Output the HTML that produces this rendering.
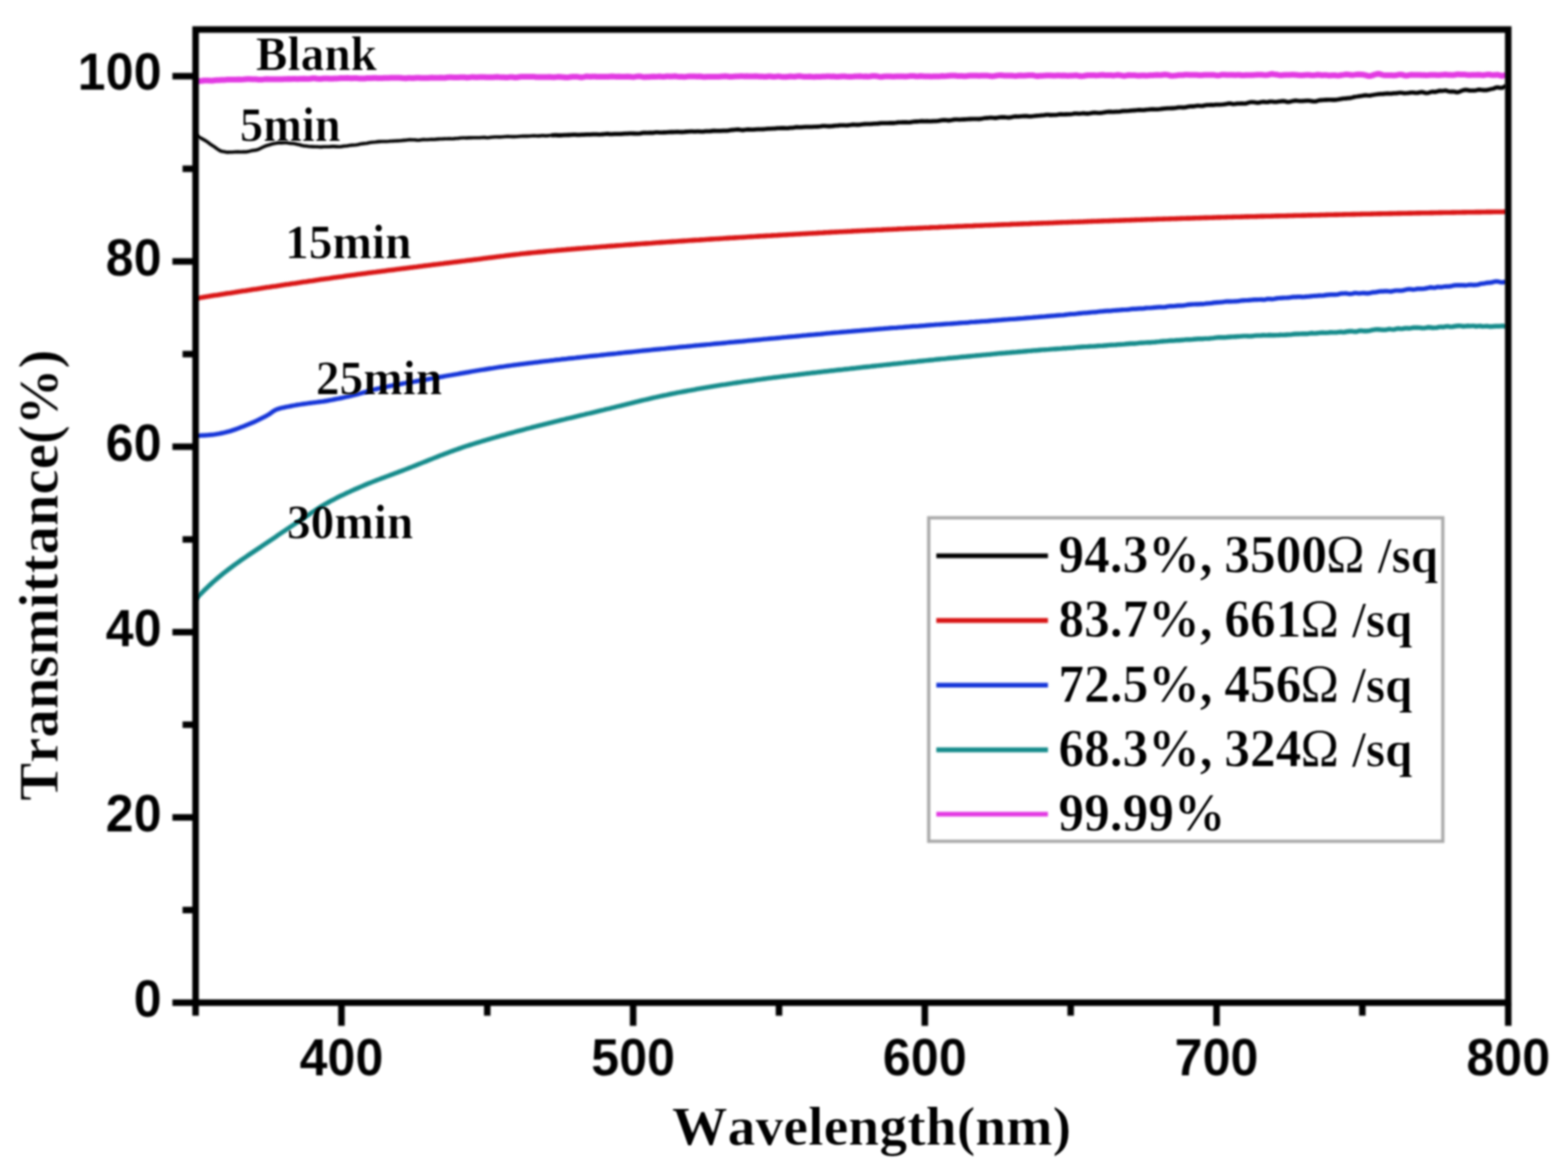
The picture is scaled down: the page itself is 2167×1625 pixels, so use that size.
<!DOCTYPE html>
<html lang="en"><head><meta charset="utf-8"><title>Transmittance vs Wavelength</title>
<style>
html,body{margin:0;padding:0;background:#fff;}
body{width:2167px;height:1625px;overflow:hidden;}
svg{display:block;}
text{font-kerning:none;fill:#000;}
.ser{font-family:"Liberation Serif","DejaVu Serif",serif;font-weight:700;}
.san{font-family:"Liberation Sans","DejaVu Sans",sans-serif;font-weight:700;}
.reg{font-weight:400;}
</style></head><body>
<svg width="2167" height="1625" viewBox="0 0 2167 1625">
<rect x="-10" y="-10" width="2187" height="1645" fill="#ffffff"/>
<defs>
<filter id="fb" filterUnits="userSpaceOnUse" x="0" y="0" width="2167" height="1625" color-interpolation-filters="sRGB"><feGaussianBlur stdDeviation="1.8"/></filter>
<filter id="ft" x="-10%" y="-30%" width="120%" height="160%" color-interpolation-filters="sRGB"><feGaussianBlur stdDeviation="1.7"/><feComponentTransfer><feFuncA type="gamma" amplitude="1" exponent="1.4" offset="0"/></feComponentTransfer></filter>
<filter id="fs" x="-10%" y="-30%" width="120%" height="160%" color-interpolation-filters="sRGB"><feGaussianBlur stdDeviation="1.7"/><feComponentTransfer><feFuncA type="gamma" amplitude="1" exponent="1.1" offset="0"/></feComponentTransfer></filter>
<filter id="fo" x="-10%" y="-30%" width="120%" height="160%" color-interpolation-filters="sRGB"><feGaussianBlur stdDeviation="1.7"/></filter>
</defs>
<clipPath id="cp"><rect x="270.3" y="40.8" width="1814.1" height="1344.7"/></clipPath>
<g filter="url(#fb)"><g fill="none" stroke-linejoin="round" stroke-linecap="butt" clip-path="url(#cp)">
<path d="M270.0,186.0 L273.0,188.2 L276.0,189.9 L279.0,191.6 L282.0,193.2 L285.0,195.0 L288.0,197.2 L291.0,199.5 L294.0,201.4 L297.0,203.4 L300.0,205.6 L303.0,207.6 L306.0,209.1 L309.0,209.6 L312.0,210.1 L315.0,210.4 L318.0,210.3 L321.0,210.2 L324.0,210.0 L327.0,209.9 L330.0,209.9 L333.0,210.0 L336.0,209.9 L339.0,209.9 L342.0,209.6 L345.0,208.9 L348.0,208.1 L351.0,207.7 L354.0,207.4 L357.0,206.5 L360.0,205.0 L363.0,203.5 L366.0,202.1 L369.0,201.0 L372.0,200.3 L375.0,199.3 L378.0,198.6 L381.0,198.1 L384.0,197.4 L387.0,197.2 L390.0,197.4 L393.0,197.3 L396.0,197.3 L399.0,197.8 L402.0,198.1 L405.0,198.3 L408.0,198.8 L411.0,199.4 L414.0,200.0 L417.0,201.0 L420.0,201.6 L423.0,201.8 L426.0,202.3 L429.0,202.5 L432.0,202.6 L435.0,202.7 L438.0,202.8 L441.0,203.0 L444.0,203.1 L447.0,202.8 L450.0,202.7 L453.0,202.7 L456.0,202.6 L459.0,202.4 L462.0,202.4 L465.0,202.6 L468.0,202.8 L471.0,202.7 L474.0,202.1 L477.0,201.8 L480.0,201.6 L483.0,201.0 L486.0,200.6 L489.0,200.5 L492.0,200.3 L495.0,199.8 L498.0,199.1 L501.0,198.6 L504.0,198.3 L507.0,198.0 L510.0,197.3 L513.0,196.7 L516.0,196.5 L519.0,196.3 L522.0,195.9 L525.0,195.6 L528.0,195.5 L531.0,195.5 L534.0,195.5 L537.0,195.3 L540.0,195.0 L543.0,194.9 L546.0,194.7 L549.0,194.6 L552.0,194.5 L555.0,194.2 L558.0,193.9 L561.0,193.7 L564.0,193.3 L567.0,193.1 L570.0,193.3 L573.0,193.3 L576.0,193.6 L579.0,193.7 L582.0,193.2 L585.0,192.9 L588.0,193.0 L591.0,193.0 L594.0,192.7 L597.0,192.6 L600.0,192.7 L603.0,192.4 L606.0,192.1 L609.0,192.0 L612.0,191.9 L615.0,191.7 L618.0,191.7 L621.0,191.6 L624.0,191.7 L627.0,191.6 L630.0,191.3 L633.0,191.1 L636.0,190.8 L639.0,190.5 L642.0,190.5 L645.0,190.6 L648.0,190.4 L651.0,190.4 L654.0,190.3 L657.0,190.3 L660.0,190.3 L663.0,190.3 L666.0,190.0 L669.0,189.8 L672.0,190.1 L675.0,190.2 L678.0,189.8 L681.0,189.5 L684.0,189.3 L687.0,189.3 L690.0,189.4 L693.0,189.2 L696.0,189.0 L699.0,188.8 L702.0,188.6 L705.0,188.7 L708.0,188.9 L711.0,188.9 L714.0,188.8 L717.0,188.5 L720.0,188.2 L723.0,188.1 L726.0,188.1 L729.0,188.1 L732.0,188.0 L735.0,187.7 L738.0,187.5 L741.0,187.7 L744.0,187.9 L747.0,187.6 L750.0,187.3 L753.0,187.6 L756.0,187.6 L759.0,187.2 L762.0,187.0" stroke="#000000" stroke-width="4.6"/>
<path d="M762.0,187.0 L765.0,186.8 L768.0,186.7 L771.0,187.0 L774.0,187.0 L777.0,186.8 L780.0,186.7 L783.0,186.7 L786.0,186.5 L789.0,186.3 L792.0,186.1 L795.0,186.2 L798.0,186.4 L801.0,186.3 L804.0,186.2 L807.0,186.1 L810.0,185.9 L813.0,185.8 L816.0,185.9 L819.0,185.7 L822.0,185.6 L825.0,185.7 L828.0,185.8 L831.0,185.7 L834.0,185.5 L837.0,185.1 L840.0,185.0 L843.0,185.3 L846.0,185.3 L849.0,185.1 L852.0,185.1 L855.0,185.1 L858.0,185.1 L861.0,184.9 L864.0,184.7 L867.0,184.6 L870.0,184.4 L873.0,184.4 L876.0,184.5 L879.0,184.6 L882.0,184.7 L885.0,184.4 L888.0,183.6 L891.0,183.4 L894.0,183.6 L897.0,183.5 L900.0,183.5 L903.0,183.5 L906.0,182.9 L909.0,182.8 L912.0,183.1 L915.0,183.2 L918.0,183.0 L921.0,182.9 L924.0,182.6 L927.0,182.4 L930.0,182.5 L933.0,182.3 L936.0,182.2 L939.0,182.4 L942.0,182.5 L945.0,182.3 L948.0,182.0 L951.0,181.8 L954.0,181.7 L957.0,181.7 L960.0,181.8 L963.0,181.7 L966.0,181.7 L969.0,181.9 L972.0,181.8 L975.0,181.4 L978.0,181.4 L981.0,181.3 L984.0,181.0 L987.0,180.7 L990.0,180.8 L993.0,180.9 L996.0,180.8 L999.0,180.6 L1002.0,180.6 L1005.0,180.6 L1008.0,180.2 L1011.0,179.7 L1014.0,179.5 L1017.0,179.1 L1020.0,178.9 L1023.0,179.4 L1026.0,179.8 L1029.0,179.5 L1032.0,179.0 L1035.0,179.0 L1038.0,179.2 L1041.0,179.1 L1044.0,178.8 L1047.0,178.7 L1050.0,178.6 L1053.0,178.6 L1056.0,178.5 L1059.0,178.1 L1062.0,177.8 L1065.0,177.8 L1068.0,177.7 L1071.0,177.6 L1074.0,177.2 L1077.0,177.1 L1080.0,177.0 L1083.0,176.9 L1086.0,177.2 L1089.0,177.1 L1092.0,176.7 L1095.0,176.6 L1098.0,176.2 L1101.0,175.7 L1104.0,175.8 L1107.0,175.9 L1110.0,175.6 L1113.0,175.4 L1116.0,175.3 L1119.0,175.4 L1122.0,175.4 L1125.0,175.2 L1128.0,175.1 L1131.0,175.0 L1134.0,174.6 L1137.0,174.1 L1140.0,174.1 L1143.0,174.4 L1146.0,174.5 L1149.0,174.3 L1152.0,174.0 L1155.0,173.7 L1158.0,173.5 L1161.0,173.2 L1164.0,173.1 L1167.0,173.2 L1170.0,173.3 L1173.0,173.0 L1176.0,172.6 L1179.0,172.2 L1182.0,172.3 L1185.0,172.5 L1188.0,172.3 L1191.0,171.9 L1194.0,171.5 L1197.0,171.3 L1200.0,171.4 L1203.0,171.4 L1206.0,171.1 L1209.0,170.9 L1212.0,170.8 L1215.0,170.5 L1218.0,170.2 L1221.0,170.1 L1224.0,170.1 L1227.0,170.1 L1230.0,169.9 L1233.0,170.0 L1236.0,170.0 L1239.0,169.5 L1242.0,169.2 L1245.0,169.2 L1248.0,169.0 L1251.0,168.8 L1254.0,169.0 L1257.0,169.1 L1260.0,168.6 L1263.0,168.2 L1266.0,168.0 L1269.0,167.9 L1272.0,167.5 L1275.0,167.5 L1278.0,167.7 L1281.0,167.5 L1284.0,167.6 L1287.0,167.7 L1290.0,167.3 L1293.0,167.3 L1296.0,167.2 L1299.0,166.7 L1302.0,166.1 L1305.0,165.9 L1308.0,166.2 L1311.0,166.5 L1314.0,166.2 L1317.0,165.5 L1320.0,165.2 L1323.0,165.2 L1326.0,165.3 L1329.0,165.1 L1332.0,165.0 L1335.0,164.9 L1338.0,164.6 L1341.0,164.5 L1344.0,164.4 L1347.0,164.3 L1350.0,164.4 L1353.0,164.5 L1356.0,164.2 L1359.0,163.5 L1362.0,163.1 L1365.0,163.0 L1368.0,162.6 L1371.0,162.6 L1374.0,163.0 L1377.0,163.0 L1380.0,162.4 L1383.0,162.0 L1386.0,161.9 L1389.0,162.0 L1392.0,162.4 L1395.0,162.5 L1398.0,161.9 L1401.0,161.2 L1404.0,161.0 L1407.0,161.1 L1410.0,160.9 L1413.0,160.7 L1416.0,160.5 L1419.0,160.5 L1422.0,160.8 L1425.0,160.9 L1428.0,160.5 L1431.0,160.1 L1434.0,159.9 L1437.0,159.7 L1440.0,159.4 L1443.0,159.1 L1446.0,158.7 L1449.0,158.7 L1452.0,159.0 L1455.0,158.9 L1458.0,158.9 L1461.0,158.6 L1464.0,158.0 L1467.0,157.8 L1470.0,158.1 L1473.0,158.0 L1476.0,157.9 L1479.0,157.9 L1482.0,157.5 L1485.0,156.9 L1488.0,156.9 L1491.0,157.2 L1494.0,156.9 L1497.0,156.5 L1500.0,156.8 L1503.0,157.0 L1506.0,156.7 L1509.0,156.2 L1512.0,155.7 L1515.0,155.8 L1518.0,156.2 L1521.0,156.0 L1524.0,155.7 L1527.0,155.2 L1530.0,154.7 L1533.0,154.3 L1536.0,154.5 L1539.0,154.6 L1542.0,154.3 L1545.0,154.4 L1548.0,154.1 L1551.0,153.5 L1554.0,153.3 L1557.0,153.3 L1560.0,153.2 L1563.0,152.9 L1566.0,152.6 L1569.0,152.5 L1572.0,152.1 L1575.0,151.9 L1578.0,152.2 L1581.0,152.1 L1584.0,151.6 L1587.0,151.4 L1590.0,151.1 L1593.0,151.0 L1596.0,151.1 L1599.0,151.1 L1602.0,150.9 L1605.0,150.5 L1608.0,150.2 L1611.0,149.9 L1614.0,149.7 L1617.0,149.7 L1620.0,149.5 L1623.0,149.3 L1626.0,148.9 L1629.0,148.4 L1632.0,148.3 L1635.0,148.5 L1638.0,148.3 L1641.0,147.7 L1644.0,147.2 L1647.0,147.0 L1650.0,147.0 L1653.0,146.4 L1656.0,146.0 L1659.0,146.4 L1662.0,146.4 L1665.0,145.6 L1668.0,145.2 L1671.0,145.1 L1674.0,145.0 L1677.0,145.1 L1680.0,144.7 L1683.0,144.6 L1686.0,144.6 L1689.0,144.4 L1692.0,144.1 L1695.0,143.6 L1698.0,143.0 L1701.0,143.2 L1704.0,143.8 L1707.0,143.6 L1710.0,143.2 L1713.0,143.1 L1716.0,142.9 L1719.0,143.1 L1722.0,143.0 L1725.0,142.0 L1728.0,141.2 L1731.0,141.1 L1734.0,141.4 L1737.0,142.0 L1740.0,141.9 L1743.0,141.0 L1746.0,140.6 L1749.0,141.2 L1752.0,141.1 L1755.0,140.4 L1758.0,140.4 L1761.0,140.8 L1764.0,140.8 L1767.0,140.4 L1770.0,140.0 L1773.0,139.7 L1776.0,140.0 L1779.0,140.9 L1782.0,140.8 L1785.0,140.0 L1788.0,139.3 L1791.0,139.0 L1794.0,139.4 L1797.0,139.7 L1800.0,139.7 L1803.0,139.4 L1806.0,139.1 L1809.0,139.2 L1812.0,139.6 L1815.0,140.2 L1818.0,140.2 L1821.0,139.2 L1824.0,138.5 L1827.0,138.4 L1830.0,138.2 L1833.0,138.0 L1836.0,137.9 L1839.0,137.8 L1842.0,138.0 L1845.0,138.0 L1848.0,137.7 L1851.0,137.2 L1854.0,136.6 L1857.0,136.1 L1860.0,136.0 L1863.0,135.7 L1866.0,135.5 L1869.0,134.8 L1872.0,133.9 L1875.0,133.5 L1878.0,133.0 L1881.0,132.7 L1884.0,132.2 L1887.0,131.6 L1890.0,131.9 L1893.0,132.1 L1896.0,131.5 L1899.0,131.0 L1902.0,130.5 L1905.0,130.1 L1908.0,129.9 L1911.0,129.8 L1914.0,129.5 L1917.0,129.1 L1920.0,129.3 L1923.0,129.3 L1926.0,128.9 L1929.0,128.8 L1932.0,128.5 L1935.0,128.0 L1938.0,128.4 L1941.0,128.8 L1944.0,128.7 L1947.0,128.4 L1950.0,127.8 L1953.0,127.9 L1956.0,128.4 L1959.0,128.4 L1962.0,127.6 L1965.0,127.1 L1968.0,127.9 L1971.0,128.7 L1974.0,128.4 L1977.0,127.3 L1980.0,126.6 L1983.0,127.1 L1986.0,126.4 L1989.0,125.4 L1992.0,125.7 L1995.0,125.4 L1998.0,125.0 L2001.0,126.0 L2004.0,126.7 L2007.0,126.3 L2010.0,126.6 L2013.0,127.5 L2016.0,127.2 L2019.0,125.9 L2022.0,124.8 L2025.0,124.1 L2028.0,124.4 L2031.0,125.1 L2034.0,125.2 L2037.0,125.1 L2040.0,124.8 L2043.0,124.0 L2046.0,124.0 L2049.0,124.5 L2052.0,124.6 L2055.0,124.5 L2058.0,123.7 L2061.0,123.0 L2064.0,122.5 L2067.0,121.2 L2070.0,120.7 L2073.0,121.4 L2076.0,121.4 L2079.0,120.0 L2082.0,118.4" stroke="#000000" stroke-width="5.8"/>
<path d="M270.0,412.4 L273.0,411.9 L276.0,411.4 L279.0,411.0 L282.0,410.5 L285.0,410.0 L288.0,409.6 L291.0,409.1 L294.0,408.6 L297.0,408.1 L300.0,407.7 L303.0,407.2 L306.0,406.7 L309.0,406.3 L312.0,405.8 L315.0,405.3 L318.0,404.9 L321.0,404.4 L324.0,404.0 L327.0,403.5 L330.0,403.0 L333.0,402.6 L336.0,402.1 L339.0,401.7 L342.0,401.2 L345.0,400.8 L348.0,400.3 L351.0,399.8 L354.0,399.4 L357.0,398.9 L360.0,398.5 L363.0,398.0 L366.0,397.6 L369.0,397.1 L372.0,396.7 L375.0,396.2 L378.0,395.8 L381.0,395.4 L384.0,394.9 L387.0,394.5 L390.0,394.0 L393.0,393.6 L396.0,393.1 L399.0,392.7 L402.0,392.2 L405.0,391.8 L408.0,391.4 L411.0,390.9 L414.0,390.5 L417.0,390.0 L420.0,389.6 L423.0,389.2 L426.0,388.7 L429.0,388.3 L432.0,387.9 L435.0,387.4 L438.0,387.0 L441.0,386.6 L444.0,386.1 L447.0,385.7 L450.0,385.3 L453.0,384.9 L456.0,384.5 L459.0,384.0 L462.0,383.6 L465.0,383.2 L468.0,382.8 L471.0,382.4 L474.0,382.0 L477.0,381.5 L480.0,381.1 L483.0,380.7 L486.0,380.3 L489.0,379.9 L492.0,379.5 L495.0,379.1 L498.0,378.7 L501.0,378.3 L504.0,377.9 L507.0,377.5 L510.0,377.1 L513.0,376.7 L516.0,376.3 L519.0,376.0 L522.0,375.6 L525.0,375.2 L528.0,374.8 L531.0,374.4 L534.0,374.0 L537.0,373.6 L540.0,373.2 L543.0,372.9 L546.0,372.5 L549.0,372.1 L552.0,371.7 L555.0,371.3 L558.0,370.9 L561.0,370.6 L564.0,370.2 L567.0,369.8 L570.0,369.4 L573.0,369.0 L576.0,368.7 L579.0,368.3 L582.0,367.9 L585.0,367.5 L588.0,367.1 L591.0,366.8 L594.0,366.4 L597.0,366.0 L600.0,365.6 L603.0,365.3 L606.0,364.9 L609.0,364.5 L612.0,364.2 L615.0,363.8 L618.0,363.4 L621.0,363.1 L624.0,362.7 L627.0,362.3 L630.0,361.9 L633.0,361.6 L636.0,361.2 L639.0,360.8 L642.0,360.5 L645.0,360.1 L648.0,359.7 L651.0,359.4 L654.0,359.0 L657.0,358.6 L660.0,358.3 L663.0,357.9 L666.0,357.5 L669.0,357.1 L672.0,356.7 L675.0,356.3 L678.0,355.9 L681.0,355.6 L684.0,355.2 L687.0,354.8 L690.0,354.4 L693.0,354.0 L696.0,353.7 L699.0,353.3 L702.0,352.9 L705.0,352.6 L708.0,352.2 L711.0,351.9 L714.0,351.5 L717.0,351.2 L720.0,350.8 L723.0,350.5 L726.0,350.2 L729.0,349.9 L732.0,349.6 L735.0,349.3 L738.0,349.0 L741.0,348.7 L744.0,348.4 L747.0,348.1 L750.0,347.9 L753.0,347.6 L756.0,347.3 L759.0,347.0 L762.0,346.7 L765.0,346.5 L768.0,346.2 L771.0,345.9 L774.0,345.7 L777.0,345.4 L780.0,345.2 L783.0,344.9 L786.0,344.6 L789.0,344.4 L792.0,344.1 L795.0,343.9 L798.0,343.6 L801.0,343.4 L804.0,343.2 L807.0,342.9 L810.0,342.7 L813.0,342.4 L816.0,342.2 L819.0,342.0 L822.0,341.7 L825.0,341.5 L828.0,341.3 L831.0,341.0 L834.0,340.8 L837.0,340.6 L840.0,340.3 L843.0,340.1 L846.0,339.9 L849.0,339.7 L852.0,339.4 L855.0,339.2 L858.0,339.0 L861.0,338.8 L864.0,338.5 L867.0,338.3 L870.0,338.1 L873.0,337.9 L876.0,337.7 L879.0,337.4 L882.0,337.2 L885.0,337.0 L888.0,336.8 L891.0,336.6 L894.0,336.4 L897.0,336.2 L900.0,336.0 L903.0,335.7 L906.0,335.5 L909.0,335.3 L912.0,335.1 L915.0,334.9 L918.0,334.7 L921.0,334.5 L924.0,334.3 L927.0,334.1 L930.0,333.9 L933.0,333.7 L936.0,333.5 L939.0,333.3 L942.0,333.1 L945.0,332.9 L948.0,332.7 L951.0,332.5 L954.0,332.3 L957.0,332.1 L960.0,331.9 L963.0,331.7 L966.0,331.6 L969.0,331.4 L972.0,331.2 L975.0,331.0 L978.0,330.8 L981.0,330.6 L984.0,330.4 L987.0,330.2 L990.0,330.0 L993.0,329.9 L996.0,329.7 L999.0,329.5 L1002.0,329.3 L1005.0,329.1 L1008.0,328.9 L1011.0,328.8 L1014.0,328.6 L1017.0,328.4 L1020.0,328.2 L1023.0,328.0 L1026.0,327.9 L1029.0,327.7 L1032.0,327.5 L1035.0,327.3 L1038.0,327.1 L1041.0,327.0 L1044.0,326.8 L1047.0,326.6 L1050.0,326.4 L1053.0,326.3 L1056.0,326.1 L1059.0,325.9 L1062.0,325.7 L1065.0,325.6 L1068.0,325.4 L1071.0,325.2 L1074.0,325.1 L1077.0,324.9 L1080.0,324.7 L1083.0,324.5 L1086.0,324.4 L1089.0,324.2 L1092.0,324.0 L1095.0,323.9 L1098.0,323.7 L1101.0,323.5 L1104.0,323.4 L1107.0,323.2 L1110.0,323.0 L1113.0,322.9 L1116.0,322.7 L1119.0,322.5 L1122.0,322.4 L1125.0,322.2 L1128.0,322.1 L1131.0,321.9 L1134.0,321.7 L1137.0,321.6 L1140.0,321.4 L1143.0,321.3 L1146.0,321.1 L1149.0,320.9 L1152.0,320.8 L1155.0,320.6 L1158.0,320.5 L1161.0,320.3 L1164.0,320.2 L1167.0,320.0 L1170.0,319.9 L1173.0,319.7 L1176.0,319.6 L1179.0,319.4 L1182.0,319.3 L1185.0,319.1 L1188.0,319.0 L1191.0,318.8 L1194.0,318.7 L1197.0,318.5 L1200.0,318.4 L1203.0,318.3 L1206.0,318.1 L1209.0,318.0 L1212.0,317.8 L1215.0,317.7 L1218.0,317.6 L1221.0,317.4 L1224.0,317.3 L1227.0,317.1 L1230.0,317.0 L1233.0,316.9 L1236.0,316.7 L1239.0,316.6 L1242.0,316.4 L1245.0,316.3 L1248.0,316.2 L1251.0,316.0 L1254.0,315.9 L1257.0,315.8 L1260.0,315.6 L1263.0,315.5 L1266.0,315.4 L1269.0,315.2 L1272.0,315.1 L1275.0,315.0 L1278.0,314.8 L1281.0,314.7 L1284.0,314.6 L1287.0,314.4 L1290.0,314.3 L1293.0,314.2 L1296.0,314.1 L1299.0,313.9 L1302.0,313.8 L1305.0,313.7 L1308.0,313.5 L1311.0,313.4 L1314.0,313.3 L1317.0,313.2 L1320.0,313.0 L1323.0,312.9 L1326.0,312.8 L1329.0,312.7 L1332.0,312.5 L1335.0,312.4 L1338.0,312.3 L1341.0,312.2 L1344.0,312.1 L1347.0,311.9 L1350.0,311.8 L1353.0,311.7 L1356.0,311.6 L1359.0,311.5 L1362.0,311.3 L1365.0,311.2 L1368.0,311.1 L1371.0,311.0 L1374.0,310.9 L1377.0,310.7 L1380.0,310.6 L1383.0,310.5 L1386.0,310.4 L1389.0,310.3 L1392.0,310.2 L1395.0,310.1 L1398.0,309.9 L1401.0,309.8 L1404.0,309.7 L1407.0,309.6 L1410.0,309.5 L1413.0,309.4 L1416.0,309.3 L1419.0,309.2 L1422.0,309.1 L1425.0,308.9 L1428.0,308.8 L1431.0,308.7 L1434.0,308.6 L1437.0,308.5 L1440.0,308.4 L1443.0,308.3 L1446.0,308.2 L1449.0,308.1 L1452.0,308.0 L1455.0,307.9 L1458.0,307.7 L1461.0,307.6 L1464.0,307.5 L1467.0,307.4 L1470.0,307.3 L1473.0,307.2 L1476.0,307.1 L1479.0,307.0 L1482.0,306.9 L1485.0,306.8 L1488.0,306.7 L1491.0,306.6 L1494.0,306.5 L1497.0,306.4 L1500.0,306.2 L1503.0,306.1 L1506.0,306.0 L1509.0,305.9 L1512.0,305.8 L1515.0,305.7 L1518.0,305.6 L1521.0,305.5 L1524.0,305.4 L1527.0,305.3 L1530.0,305.2 L1533.0,305.1 L1536.0,305.0 L1539.0,304.9 L1542.0,304.8 L1545.0,304.7 L1548.0,304.6 L1551.0,304.5 L1554.0,304.4 L1557.0,304.3 L1560.0,304.2 L1563.0,304.1 L1566.0,304.0 L1569.0,303.9 L1572.0,303.8 L1575.0,303.7 L1578.0,303.6 L1581.0,303.5 L1584.0,303.4 L1587.0,303.3 L1590.0,303.2 L1593.0,303.1 L1596.0,303.0 L1599.0,302.9 L1602.0,302.8 L1605.0,302.7 L1608.0,302.6 L1611.0,302.5 L1614.0,302.5 L1617.0,302.4 L1620.0,302.3 L1623.0,302.2 L1626.0,302.1 L1629.0,302.0 L1632.0,301.9 L1635.0,301.8 L1638.0,301.7 L1641.0,301.6 L1644.0,301.6 L1647.0,301.5 L1650.0,301.4 L1653.0,301.3 L1656.0,301.2 L1659.0,301.1 L1662.0,301.0 L1665.0,300.9 L1668.0,300.9 L1671.0,300.8 L1674.0,300.7 L1677.0,300.6 L1680.0,300.5 L1683.0,300.4 L1686.0,300.4 L1689.0,300.3 L1692.0,300.2 L1695.0,300.1 L1698.0,300.0 L1701.0,300.0 L1704.0,299.9 L1707.0,299.8 L1710.0,299.7 L1713.0,299.7 L1716.0,299.6 L1719.0,299.5 L1722.0,299.4 L1725.0,299.4 L1728.0,299.3 L1731.0,299.2 L1734.0,299.2 L1737.0,299.1 L1740.0,299.0 L1743.0,298.9 L1746.0,298.9 L1749.0,298.8 L1752.0,298.7 L1755.0,298.7 L1758.0,298.6 L1761.0,298.5 L1764.0,298.4 L1767.0,298.4 L1770.0,298.3 L1773.0,298.2 L1776.0,298.2 L1779.0,298.1 L1782.0,298.0 L1785.0,298.0 L1788.0,297.9 L1791.0,297.8 L1794.0,297.8 L1797.0,297.7 L1800.0,297.6 L1803.0,297.6 L1806.0,297.5 L1809.0,297.4 L1812.0,297.4 L1815.0,297.3 L1818.0,297.2 L1821.0,297.2 L1824.0,297.1 L1827.0,297.0 L1830.0,297.0 L1833.0,296.9 L1836.0,296.8 L1839.0,296.8 L1842.0,296.7 L1845.0,296.6 L1848.0,296.6 L1851.0,296.5 L1854.0,296.5 L1857.0,296.4 L1860.0,296.3 L1863.0,296.3 L1866.0,296.2 L1869.0,296.1 L1872.0,296.1 L1875.0,296.0 L1878.0,296.0 L1881.0,295.9 L1884.0,295.8 L1887.0,295.8 L1890.0,295.7 L1893.0,295.7 L1896.0,295.6 L1899.0,295.5 L1902.0,295.5 L1905.0,295.4 L1908.0,295.4 L1911.0,295.3 L1914.0,295.2 L1917.0,295.2 L1920.0,295.1 L1923.0,295.1 L1926.0,295.0 L1929.0,295.0 L1932.0,294.9 L1935.0,294.9 L1938.0,294.8 L1941.0,294.7 L1944.0,294.7 L1947.0,294.6 L1950.0,294.6 L1953.0,294.5 L1956.0,294.5 L1959.0,294.4 L1962.0,294.4 L1965.0,294.3 L1968.0,294.3 L1971.0,294.2 L1974.0,294.2 L1977.0,294.1 L1980.0,294.1 L1983.0,294.0 L1986.0,294.0 L1989.0,293.9 L1992.0,293.9 L1995.0,293.8 L1998.0,293.8 L2001.0,293.7 L2004.0,293.7 L2007.0,293.6 L2010.0,293.6 L2013.0,293.5 L2016.0,293.5 L2019.0,293.5 L2022.0,293.4 L2025.0,293.4 L2028.0,293.3 L2031.0,293.3 L2034.0,293.2 L2037.0,293.2 L2040.0,293.1 L2043.0,293.1 L2046.0,293.1 L2049.0,293.0 L2052.0,293.0 L2055.0,292.9 L2058.0,292.9 L2061.0,292.9 L2064.0,292.8 L2067.0,292.8 L2070.0,292.7 L2073.0,292.7 L2076.0,292.7 L2079.0,292.6 L2082.0,292.6" stroke="#d91515" stroke-width="6.6"/>
<path d="M270.0,602.0 L273.0,602.0 L276.0,601.9 L279.0,601.7 L282.0,601.6 L285.0,601.4 L288.0,601.2 L291.0,600.9 L294.0,600.6 L297.0,600.2 L300.0,599.7 L303.0,599.2 L306.0,598.6 L309.0,598.0 L312.0,597.3 L315.0,596.5 L318.0,595.7 L321.0,594.7 L324.0,593.7 L327.0,592.7 L330.0,591.6 L333.0,590.4 L336.0,589.3 L339.0,588.1 L342.0,586.9 L345.0,585.7 L348.0,584.4 L351.0,583.1 L354.0,581.7 L357.0,580.3 L360.0,578.8 L363.0,577.3 L366.0,575.8 L369.0,574.1 L372.0,572.4 L375.0,570.3 L378.0,568.1 L381.0,566.3 L384.0,565.2 L387.0,564.3 L390.0,563.6 L393.0,562.9 L396.0,562.3 L399.0,561.7 L402.0,561.1 L405.0,560.5 L408.0,560.0 L411.0,559.4 L414.0,559.0 L417.0,558.5 L420.0,558.1 L423.0,557.7 L426.0,557.3 L429.0,556.9 L432.0,556.5 L435.0,556.2 L438.0,555.8 L441.0,555.4 L444.0,555.0 L447.0,554.6 L450.0,554.1 L453.0,553.6 L456.0,553.0 L459.0,552.5 L462.0,551.9 L465.0,551.3 L468.0,550.7 L471.0,550.1 L474.0,549.5 L477.0,548.8 L480.0,548.1 L483.0,547.5 L486.0,546.7 L489.0,546.0 L492.0,545.2 L495.0,544.4 L498.0,543.6 L501.0,542.7 L504.0,541.9 L507.0,541.0 L510.0,540.1 L513.0,539.2 L516.0,538.5 L519.0,537.7 L522.0,537.1 L525.0,536.4 L528.0,535.7 L531.0,535.1 L534.0,534.5 L537.0,533.8 L540.0,533.2 L543.0,532.6 L546.0,532.1 L549.0,531.5 L552.0,530.9 L555.0,530.4 L558.0,529.8 L561.0,529.3 L564.0,528.7 L567.0,528.2 L570.0,527.7 L573.0,527.2 L576.0,526.6 L579.0,526.1 L582.0,525.6 L585.0,525.1 L588.0,524.6 L591.0,524.1 L594.0,523.5 L597.0,523.0 L600.0,522.5 L603.0,522.0 L606.0,521.4 L609.0,520.9 L612.0,520.4 L615.0,519.8 L618.0,519.3 L621.0,518.8 L624.0,518.3 L627.0,517.7 L630.0,517.2 L633.0,516.7 L636.0,516.1 L639.0,515.6 L642.0,515.1 L645.0,514.6 L648.0,514.1 L651.0,513.5 L654.0,513.0 L657.0,512.5 L660.0,512.0 L663.0,511.5 L666.0,511.0 L669.0,510.6 L672.0,510.1 L675.0,509.6 L678.0,509.1 L681.0,508.7 L684.0,508.2 L687.0,507.8 L690.0,507.3 L693.0,506.9 L696.0,506.5 L699.0,506.0 L702.0,505.6 L705.0,505.2 L708.0,504.8 L711.0,504.4 L714.0,504.0 L717.0,503.6 L720.0,503.2 L723.0,502.9 L726.0,502.5 L729.0,502.1 L732.0,501.7 L735.0,501.4 L738.0,501.0 L741.0,500.6 L744.0,500.3 L747.0,499.9 L750.0,499.5 L753.0,499.2 L756.0,498.8 L759.0,498.5 L762.0,498.1 L765.0,497.8 L768.0,497.4 L771.0,497.1 L774.0,496.8 L777.0,496.4 L780.0,496.1 L783.0,495.8 L786.0,495.4 L789.0,495.1 L792.0,494.8 L795.0,494.5 L798.0,494.1 L801.0,493.8 L804.0,493.5 L807.0,493.2 L810.0,492.8 L813.0,492.5 L816.0,492.2 L819.0,491.9 L822.0,491.6 L825.0,491.3 L828.0,491.0 L831.0,490.6 L834.0,490.3 L837.0,490.0 L840.0,489.7 L843.0,489.4 L846.0,489.1 L849.0,488.8 L852.0,488.5 L855.0,488.1 L858.0,487.8 L861.0,487.5 L864.0,487.2 L867.0,486.9 L870.0,486.6 L873.0,486.3 L876.0,486.0 L879.0,485.7 L882.0,485.3 L885.0,485.0 L888.0,484.7 L891.0,484.4 L894.0,484.1 L897.0,483.8 L900.0,483.5 L903.0,483.2 L906.0,482.9 L909.0,482.6 L912.0,482.3 L915.0,482.0 L918.0,481.8 L921.0,481.5 L924.0,481.2 L927.0,480.9 L930.0,480.6 L933.0,480.3 L936.0,480.0 L939.0,479.7 L942.0,479.4 L945.0,479.1 L948.0,478.9 L951.0,478.6 L954.0,478.3 L957.0,478.0 L960.0,477.7 L963.0,477.4 L966.0,477.2 L969.0,476.9 L972.0,476.6 L975.0,476.3 L978.0,476.0 L981.0,475.8 L984.0,475.5 L987.0,475.2 L990.0,474.9 L993.0,474.6 L996.0,474.4 L999.0,474.1 L1002.0,473.8 L1005.0,473.5 L1008.0,473.2 L1011.0,472.9 L1014.0,472.7 L1017.0,472.4 L1020.0,472.1 L1023.0,471.8 L1026.0,471.6 L1029.0,471.3 L1032.0,471.0 L1035.0,470.7 L1038.0,470.5 L1041.0,470.2 L1044.0,469.9 L1047.0,469.6 L1050.0,469.3 L1053.0,469.0 L1056.0,468.7 L1059.0,468.5 L1062.0,468.2 L1065.0,467.9 L1068.0,467.6 L1071.0,467.4 L1074.0,467.1 L1077.0,466.8 L1080.0,466.5 L1083.0,466.2 L1086.0,466.0 L1089.0,465.7 L1092.0,465.4 L1095.0,465.1 L1098.0,464.9 L1101.0,464.6 L1104.0,464.3 L1107.0,464.0 L1110.0,463.7 L1113.0,463.5 L1116.0,463.2 L1119.0,462.9 L1122.0,462.6 L1125.0,462.4 L1128.0,462.1 L1131.0,461.8 L1134.0,461.6 L1137.0,461.3 L1140.0,461.0 L1143.0,460.7 L1146.0,460.5 L1149.0,460.2 L1152.0,459.9 L1155.0,459.7 L1158.0,459.5 L1161.0,459.2 L1164.0,458.9 L1167.0,458.6 L1170.0,458.4 L1173.0,458.1 L1176.0,457.9 L1179.0,457.6 L1182.0,457.3 L1185.0,457.1 L1188.0,456.9 L1191.0,456.6 L1194.0,456.3 L1197.0,456.1 L1200.0,455.9 L1203.0,455.6 L1206.0,455.4 L1209.0,455.1 L1212.0,454.8 L1215.0,454.6 L1218.0,454.4 L1221.0,454.2 L1224.0,453.9 L1227.0,453.7 L1230.0,453.4 L1233.0,453.2 L1236.0,453.0 L1239.0,452.8 L1242.0,452.5 L1245.0,452.3 L1248.0,452.1 L1251.0,451.8 L1254.0,451.6 L1257.0,451.4 L1260.0,451.1 L1263.0,450.9 L1266.0,450.8 L1269.0,450.6 L1272.0,450.3 L1275.0,450.1 L1278.0,449.9 L1281.0,449.6 L1284.0,449.4 L1287.0,449.2 L1290.0,449.0 L1293.0,448.7 L1296.0,448.5 L1299.0,448.3 L1302.0,448.1 L1305.0,447.9 L1308.0,447.7 L1311.0,447.5 L1314.0,447.3 L1317.0,447.1 L1320.0,446.9 L1323.0,446.7 L1326.0,446.4 L1329.0,446.2 L1332.0,446.0 L1335.0,445.8 L1338.0,445.6 L1341.0,445.2 L1344.0,445.0 L1347.0,444.9 L1350.0,444.7 L1353.0,444.5 L1356.0,444.2 L1359.0,444.0 L1362.0,443.8 L1365.0,443.6 L1368.0,443.3 L1371.0,443.0 L1374.0,442.8 L1377.0,442.6 L1380.0,442.4 L1383.0,442.2 L1386.0,441.9 L1389.0,441.7 L1392.0,441.5 L1395.0,441.2 L1398.0,441.0 L1401.0,440.8 L1404.0,440.7 L1407.0,440.4 L1410.0,440.2 L1413.0,440.0 L1416.0,439.7 L1419.0,439.4 L1422.0,439.2 L1425.0,439.0 L1428.0,438.7 L1431.0,438.4 L1434.0,438.2 L1437.0,437.9 L1440.0,437.7 L1443.0,437.5 L1446.0,437.2 L1449.0,436.9 L1452.0,436.6 L1455.0,436.4 L1458.0,436.2 L1461.0,435.9 L1464.0,435.7 L1467.0,435.5 L1470.0,435.3 L1473.0,434.9 L1476.0,434.5 L1479.0,434.2 L1482.0,434.0 L1485.0,433.8 L1488.0,433.5 L1491.0,433.1 L1494.0,432.8 L1497.0,432.5 L1500.0,432.3 L1503.0,432.1 L1506.0,431.8 L1509.0,431.5 L1512.0,431.3 L1515.0,431.1 L1518.0,430.7 L1521.0,430.3 L1524.0,430.1 L1527.0,429.8 L1530.0,429.7 L1533.0,429.6 L1536.0,429.4 L1539.0,429.0 L1542.0,428.8 L1545.0,428.6 L1548.0,428.4 L1551.0,428.1 L1554.0,428.0 L1557.0,427.9 L1560.0,427.6 L1563.0,427.2 L1566.0,426.9 L1569.0,426.8 L1572.0,426.6 L1575.0,426.4 L1578.0,426.3 L1581.0,426.1 L1584.0,425.6 L1587.0,425.5 L1590.0,425.4 L1593.0,425.2 L1596.0,424.9 L1599.0,424.6 L1602.0,424.4 L1605.0,424.4 L1608.0,424.5 L1611.0,424.1 L1614.0,423.5 L1617.0,423.2 L1620.0,423.1 L1623.0,423.0 L1626.0,422.6 L1629.0,422.4 L1632.0,422.4 L1635.0,422.1 L1638.0,421.7 L1641.0,421.2 L1644.0,420.9 L1647.0,420.6 L1650.0,420.5 L1653.0,420.4 L1656.0,420.3 L1659.0,420.2 L1662.0,420.2 L1665.0,419.8 L1668.0,419.3 L1671.0,419.2 L1674.0,419.0 L1677.0,418.4 L1680.0,418.1 L1683.0,417.8 L1686.0,417.7 L1689.0,417.5 L1692.0,417.0 L1695.0,416.7 L1698.0,416.7 L1701.0,416.6 L1704.0,416.5 L1707.0,416.3 L1710.0,416.1 L1713.0,415.8 L1716.0,415.3 L1719.0,415.1 L1722.0,415.0 L1725.0,414.9 L1728.0,414.7 L1731.0,414.3 L1734.0,414.2 L1737.0,414.2 L1740.0,414.0 L1743.0,413.8 L1746.0,414.1 L1749.0,413.8 L1752.0,413.1 L1755.0,413.1 L1758.0,413.3 L1761.0,413.0 L1764.0,412.4 L1767.0,412.0 L1770.0,411.8 L1773.0,411.6 L1776.0,411.5 L1779.0,411.4 L1782.0,411.1 L1785.0,410.7 L1788.0,410.4 L1791.0,410.3 L1794.0,410.1 L1797.0,410.2 L1800.0,410.3 L1803.0,410.1 L1806.0,409.8 L1809.0,409.6 L1812.0,409.3 L1815.0,409.0 L1818.0,408.8 L1821.0,408.7 L1824.0,408.4 L1827.0,408.5 L1830.0,408.1 L1833.0,407.6 L1836.0,407.3 L1839.0,407.2 L1842.0,407.1 L1845.0,407.1 L1848.0,407.0 L1851.0,406.3 L1854.0,405.6 L1857.0,405.5 L1860.0,405.4 L1863.0,405.8 L1866.0,406.1 L1869.0,405.7 L1872.0,404.9 L1875.0,405.0 L1878.0,405.5 L1881.0,405.2 L1884.0,404.8 L1887.0,405.1 L1890.0,405.4 L1893.0,404.9 L1896.0,404.2 L1899.0,403.9 L1902.0,403.6 L1905.0,403.0 L1908.0,402.6 L1911.0,402.6 L1914.0,402.4 L1917.0,402.3 L1920.0,402.7 L1923.0,402.8 L1926.0,402.0 L1929.0,401.5 L1932.0,401.5 L1935.0,401.6 L1938.0,401.5 L1941.0,400.7 L1944.0,400.0 L1947.0,399.5 L1950.0,399.7 L1953.0,400.1 L1956.0,399.7 L1959.0,399.1 L1962.0,399.0 L1965.0,399.2 L1968.0,399.0 L1971.0,398.4 L1974.0,397.8 L1977.0,397.1 L1980.0,397.4 L1983.0,397.6 L1986.0,396.7 L1989.0,396.5 L1992.0,396.8 L1995.0,396.3 L1998.0,395.8 L2001.0,395.8 L2004.0,395.7 L2007.0,395.0 L2010.0,394.3 L2013.0,394.2 L2016.0,394.1 L2019.0,394.0 L2022.0,394.2 L2025.0,394.4 L2028.0,394.0 L2031.0,393.5 L2034.0,393.6 L2037.0,393.8 L2040.0,393.7 L2043.0,393.2 L2046.0,392.2 L2049.0,391.8 L2052.0,391.5 L2055.0,390.8 L2058.0,390.6 L2061.0,390.4 L2064.0,389.6 L2067.0,388.9 L2070.0,389.0 L2073.0,389.7 L2076.0,390.2 L2079.0,389.9 L2082.0,389.1" stroke="#1535d8" stroke-width="6.2"/>
<path d="M270.0,828.0 L273.0,824.9 L276.0,821.9 L279.0,818.9 L282.0,815.9 L285.0,813.1 L288.0,810.2 L291.0,807.5 L294.0,804.7 L297.0,802.1 L300.0,799.5 L303.0,797.0 L306.0,794.5 L309.0,792.1 L312.0,789.7 L315.0,787.4 L318.0,785.1 L321.0,782.9 L324.0,780.7 L327.0,778.5 L330.0,776.3 L333.0,774.2 L336.0,772.1 L339.0,770.1 L342.0,768.0 L345.0,766.0 L348.0,764.0 L351.0,762.0 L354.0,760.0 L357.0,758.0 L360.0,756.0 L363.0,753.9 L366.0,751.9 L369.0,749.9 L372.0,747.8 L375.0,745.8 L378.0,743.8 L381.0,741.8 L384.0,739.7 L387.0,737.7 L390.0,735.7 L393.0,733.7 L396.0,731.7 L399.0,729.6 L402.0,727.6 L405.0,725.6 L408.0,723.6 L411.0,721.6 L414.0,719.6 L417.0,717.6 L420.0,715.6 L423.0,713.6 L426.0,711.7 L429.0,709.7 L432.0,707.7 L435.0,705.7 L438.0,703.7 L441.0,701.7 L444.0,699.8 L447.0,698.0 L450.0,696.2 L453.0,694.6 L456.0,692.9 L459.0,691.3 L462.0,689.8 L465.0,688.2 L468.0,686.7 L471.0,685.2 L474.0,683.8 L477.0,682.4 L480.0,680.9 L483.0,679.6 L486.0,678.2 L489.0,676.8 L492.0,675.5 L495.0,674.2 L498.0,672.9 L501.0,671.6 L504.0,670.3 L507.0,669.0 L510.0,667.8 L513.0,666.6 L516.0,665.4 L519.0,664.2 L522.0,663.1 L525.0,661.9 L528.0,660.8 L531.0,659.7 L534.0,658.6 L537.0,657.4 L540.0,656.3 L543.0,655.2 L546.0,654.1 L549.0,653.0 L552.0,651.8 L555.0,650.7 L558.0,649.6 L561.0,648.4 L564.0,647.2 L567.0,646.1 L570.0,644.9 L573.0,643.7 L576.0,642.5 L579.0,641.3 L582.0,640.1 L585.0,638.9 L588.0,637.7 L591.0,636.5 L594.0,635.3 L597.0,634.1 L600.0,632.9 L603.0,631.7 L606.0,630.5 L609.0,629.3 L612.0,628.2 L615.0,627.0 L618.0,625.9 L621.0,624.8 L624.0,623.6 L627.0,622.6 L630.0,621.5 L633.0,620.4 L636.0,619.4 L639.0,618.3 L642.0,617.3 L645.0,616.3 L648.0,615.4 L651.0,614.4 L654.0,613.5 L657.0,612.5 L660.0,611.6 L663.0,610.7 L666.0,609.8 L669.0,608.9 L672.0,608.0 L675.0,607.1 L678.0,606.2 L681.0,605.3 L684.0,604.5 L687.0,603.6 L690.0,602.8 L693.0,601.9 L696.0,601.1 L699.0,600.3 L702.0,599.4 L705.0,598.6 L708.0,597.8 L711.0,597.0 L714.0,596.2 L717.0,595.4 L720.0,594.6 L723.0,593.8 L726.0,593.0 L729.0,592.2 L732.0,591.5 L735.0,590.7 L738.0,589.9 L741.0,589.2 L744.0,588.4 L747.0,587.6 L750.0,586.9 L753.0,586.1 L756.0,585.4 L759.0,584.6 L762.0,583.9 L765.0,583.1 L768.0,582.4 L771.0,581.7 L774.0,580.9 L777.0,580.2 L780.0,579.5 L783.0,578.7 L786.0,578.0 L789.0,577.3 L792.0,576.6 L795.0,575.8 L798.0,575.1 L801.0,574.4 L804.0,573.7 L807.0,573.0 L810.0,572.2 L813.0,571.5 L816.0,570.8 L819.0,570.1 L822.0,569.4 L825.0,568.6 L828.0,567.9 L831.0,567.2 L834.0,566.5 L837.0,565.7 L840.0,565.0 L843.0,564.3 L846.0,563.5 L849.0,562.8 L852.0,562.0 L855.0,561.3 L858.0,560.6 L861.0,559.8 L864.0,559.1 L867.0,558.3 L870.0,557.6 L873.0,556.9 L876.0,556.1 L879.0,555.4 L882.0,554.7 L885.0,553.9 L888.0,553.2 L891.0,552.5 L894.0,551.8 L897.0,551.1 L900.0,550.4 L903.0,549.7 L906.0,549.0 L909.0,548.3 L912.0,547.7 L915.0,547.0 L918.0,546.4 L921.0,545.8 L924.0,545.1 L927.0,544.5 L930.0,543.9 L933.0,543.3 L936.0,542.7 L939.0,542.2 L942.0,541.6 L945.0,541.0 L948.0,540.5 L951.0,539.9 L954.0,539.4 L957.0,538.8 L960.0,538.3 L963.0,537.7 L966.0,537.2 L969.0,536.7 L972.0,536.2 L975.0,535.7 L978.0,535.2 L981.0,534.7 L984.0,534.2 L987.0,533.7 L990.0,533.2 L993.0,532.7 L996.0,532.2 L999.0,531.7 L1002.0,531.3 L1005.0,530.8 L1008.0,530.3 L1011.0,529.9 L1014.0,529.4 L1017.0,529.0 L1020.0,528.5 L1023.0,528.1 L1026.0,527.6 L1029.0,527.2 L1032.0,526.8 L1035.0,526.4 L1038.0,526.0 L1041.0,525.6 L1044.0,525.1 L1047.0,524.7 L1050.0,524.3 L1053.0,523.9 L1056.0,523.5 L1059.0,523.1 L1062.0,522.7 L1065.0,522.3 L1068.0,521.9 L1071.0,521.5 L1074.0,521.2 L1077.0,520.8 L1080.0,520.4 L1083.0,520.0 L1086.0,519.7 L1089.0,519.3 L1092.0,518.9 L1095.0,518.6 L1098.0,518.2 L1101.0,517.9 L1104.0,517.5 L1107.0,517.1 L1110.0,516.8 L1113.0,516.4 L1116.0,516.0 L1119.0,515.7 L1122.0,515.3 L1125.0,515.0 L1128.0,514.7 L1131.0,514.3 L1134.0,514.0 L1137.0,513.6 L1140.0,513.3 L1143.0,513.0 L1146.0,512.6 L1149.0,512.3 L1152.0,512.0 L1155.0,511.6 L1158.0,511.3 L1161.0,511.0 L1164.0,510.7 L1167.0,510.3 L1170.0,510.0 L1173.0,509.7 L1176.0,509.3 L1179.0,509.0 L1182.0,508.7 L1185.0,508.3 L1188.0,508.0 L1191.0,507.6 L1194.0,507.3 L1197.0,507.0 L1200.0,506.7 L1203.0,506.4 L1206.0,506.0 L1209.0,505.7 L1212.0,505.4 L1215.0,505.1 L1218.0,504.8 L1221.0,504.4 L1224.0,504.1 L1227.0,503.8 L1230.0,503.5 L1233.0,503.1 L1236.0,502.8 L1239.0,502.6 L1242.0,502.2 L1245.0,501.9 L1248.0,501.6 L1251.0,501.2 L1254.0,500.9 L1257.0,500.6 L1260.0,500.3 L1263.0,500.0 L1266.0,499.7 L1269.0,499.3 L1272.0,499.0 L1275.0,498.7 L1278.0,498.4 L1281.0,498.1 L1284.0,497.8 L1287.0,497.5 L1290.0,497.2 L1293.0,496.8 L1296.0,496.5 L1299.0,496.2 L1302.0,495.9 L1305.0,495.7 L1308.0,495.4 L1311.0,495.0 L1314.0,494.7 L1317.0,494.5 L1320.0,494.2 L1323.0,494.0 L1326.0,493.6 L1329.0,493.3 L1332.0,493.0 L1335.0,492.8 L1338.0,492.5 L1341.0,492.2 L1344.0,491.9 L1347.0,491.6 L1350.0,491.3 L1353.0,491.1 L1356.0,490.8 L1359.0,490.4 L1362.0,490.2 L1365.0,489.9 L1368.0,489.7 L1371.0,489.4 L1374.0,489.1 L1377.0,488.8 L1380.0,488.4 L1383.0,488.2 L1386.0,488.0 L1389.0,487.8 L1392.0,487.5 L1395.0,487.3 L1398.0,487.0 L1401.0,486.8 L1404.0,486.6 L1407.0,486.3 L1410.0,486.0 L1413.0,485.8 L1416.0,485.5 L1419.0,485.2 L1422.0,484.9 L1425.0,484.7 L1428.0,484.4 L1431.0,484.2 L1434.0,484.0 L1437.0,483.7 L1440.0,483.4 L1443.0,483.3 L1446.0,483.1 L1449.0,482.9 L1452.0,482.6 L1455.0,482.4 L1458.0,482.2 L1461.0,482.0 L1464.0,481.9 L1467.0,481.6 L1470.0,481.3 L1473.0,481.2 L1476.0,480.9 L1479.0,480.7 L1482.0,480.6 L1485.0,480.3 L1488.0,479.9 L1491.0,479.7 L1494.0,479.5 L1497.0,479.3 L1500.0,479.1 L1503.0,479.0 L1506.0,478.8 L1509.0,478.6 L1512.0,478.5 L1515.0,478.3 L1518.0,478.0 L1521.0,477.9 L1524.0,477.8 L1527.0,477.5 L1530.0,477.2 L1533.0,476.9 L1536.0,476.7 L1539.0,476.6 L1542.0,476.5 L1545.0,476.1 L1548.0,476.0 L1551.0,475.9 L1554.0,475.6 L1557.0,475.3 L1560.0,475.0 L1563.0,474.7 L1566.0,474.7 L1569.0,474.7 L1572.0,474.3 L1575.0,473.9 L1578.0,473.7 L1581.0,473.6 L1584.0,473.4 L1587.0,473.3 L1590.0,473.2 L1593.0,472.9 L1596.0,472.7 L1599.0,472.4 L1602.0,472.1 L1605.0,471.7 L1608.0,471.5 L1611.0,471.4 L1614.0,471.1 L1617.0,470.8 L1620.0,470.8 L1623.0,470.6 L1626.0,470.3 L1629.0,470.2 L1632.0,470.0 L1635.0,469.8 L1638.0,469.4 L1641.0,469.2 L1644.0,469.2 L1647.0,469.1 L1650.0,468.8 L1653.0,468.5 L1656.0,468.3 L1659.0,468.3 L1662.0,468.2 L1665.0,467.9 L1668.0,467.9 L1671.0,467.7 L1674.0,467.4 L1677.0,467.1 L1680.0,466.7 L1683.0,466.3 L1686.0,466.2 L1689.0,466.3 L1692.0,466.2 L1695.0,466.0 L1698.0,465.7 L1701.0,465.5 L1704.0,465.4 L1707.0,465.2 L1710.0,465.0 L1713.0,464.9 L1716.0,464.6 L1719.0,464.4 L1722.0,464.4 L1725.0,464.5 L1728.0,464.6 L1731.0,464.3 L1734.0,463.9 L1737.0,463.6 L1740.0,463.6 L1743.0,463.5 L1746.0,463.3 L1749.0,463.4 L1752.0,463.3 L1755.0,463.0 L1758.0,463.2 L1761.0,463.2 L1764.0,463.1 L1767.0,463.0 L1770.0,462.8 L1773.0,462.9 L1776.0,462.7 L1779.0,462.5 L1782.0,462.4 L1785.0,462.2 L1788.0,461.7 L1791.0,461.5 L1794.0,461.5 L1797.0,461.4 L1800.0,461.2 L1803.0,461.2 L1806.0,461.3 L1809.0,460.8 L1812.0,460.3 L1815.0,460.5 L1818.0,460.6 L1821.0,460.3 L1824.0,459.9 L1827.0,459.6 L1830.0,459.8 L1833.0,459.9 L1836.0,459.6 L1839.0,459.3 L1842.0,459.4 L1845.0,459.4 L1848.0,459.2 L1851.0,458.8 L1854.0,458.8 L1857.0,459.1 L1860.0,458.5 L1863.0,458.0 L1866.0,457.8 L1869.0,457.8 L1872.0,458.3 L1875.0,458.2 L1878.0,457.2 L1881.0,456.8 L1884.0,457.3 L1887.0,457.5 L1890.0,457.3 L1893.0,456.8 L1896.0,456.2 L1899.0,455.7 L1902.0,455.2 L1905.0,455.2 L1908.0,455.5 L1911.0,455.7 L1914.0,455.9 L1917.0,455.3 L1920.0,454.7 L1923.0,455.1 L1926.0,455.4 L1929.0,454.6 L1932.0,453.9 L1935.0,454.2 L1938.0,454.4 L1941.0,453.7 L1944.0,453.4 L1947.0,453.7 L1950.0,453.4 L1953.0,452.8 L1956.0,452.6 L1959.0,452.7 L1962.0,452.9 L1965.0,453.2 L1968.0,453.4 L1971.0,452.9 L1974.0,452.2 L1977.0,452.5 L1980.0,453.0 L1983.0,452.9 L1986.0,452.7 L1989.0,451.9 L1992.0,451.7 L1995.0,452.0 L1998.0,451.2 L2001.0,450.9 L2004.0,451.6 L2007.0,451.5 L2010.0,451.0 L2013.0,450.5 L2016.0,450.2 L2019.0,450.4 L2022.0,451.0 L2025.0,450.8 L2028.0,450.3 L2031.0,450.6 L2034.0,450.4 L2037.0,450.4 L2040.0,451.0 L2043.0,450.6 L2046.0,450.5 L2049.0,451.1 L2052.0,450.9 L2055.0,450.7 L2058.0,451.2 L2061.0,451.3 L2064.0,451.0 L2067.0,450.8 L2070.0,450.7 L2073.0,450.7 L2076.0,450.3 L2079.0,450.6 L2082.0,451.5" stroke="#158b8b" stroke-width="6.4"/>
<path d="M270.0,111.7 L273.0,111.9 L276.0,112.1 L279.0,111.7 L282.0,111.3 L285.0,111.2 L288.0,111.2 L291.0,111.4 L294.0,111.5 L297.0,110.9 L300.0,110.7 L303.0,110.8 L306.0,110.6 L309.0,110.5 L312.0,110.3 L315.0,109.9 L318.0,109.9 L321.0,110.0 L324.0,110.1 L327.0,110.0 L330.0,109.8 L333.0,109.9 L336.0,109.8 L339.0,109.5 L342.0,109.2 L345.0,109.3 L348.0,109.5 L351.0,109.4 L354.0,109.6 L357.0,109.9 L360.0,110.1 L363.0,109.9 L366.0,109.4 L369.0,109.2 L372.0,109.5 L375.0,109.6 L378.0,109.6 L381.0,109.5 L384.0,109.6 L387.0,109.6 L390.0,109.4 L393.0,109.3 L396.0,109.2 L399.0,109.1 L402.0,109.2 L405.0,109.1 L408.0,109.1 L411.0,109.2 L414.0,109.1 L417.0,109.0 L420.0,108.8 L423.0,108.9 L426.0,109.1 L429.0,108.7 L432.0,108.2 L435.0,108.2 L438.0,108.7 L441.0,109.0 L444.0,108.9 L447.0,108.6 L450.0,108.4 L453.0,108.5 L456.0,108.8 L459.0,108.8 L462.0,108.5 L465.0,108.4 L468.0,108.3 L471.0,108.0 L474.0,108.1 L477.0,107.9 L480.0,107.7 L483.0,108.1 L486.0,108.3 L489.0,107.9 L492.0,107.9 L495.0,108.3 L498.0,108.4 L501.0,108.4 L504.0,108.4 L507.0,108.1 L510.0,108.0 L513.0,107.9 L516.0,107.8 L519.0,107.8 L522.0,108.0 L525.0,108.1 L528.0,107.9 L531.0,107.7 L534.0,107.7 L537.0,107.7 L540.0,107.5 L543.0,107.4 L546.0,107.5 L549.0,107.5 L552.0,107.5 L555.0,107.7 L558.0,108.1 L561.0,108.2 L564.0,107.8 L567.0,107.8 L570.0,108.1 L573.0,107.8 L576.0,107.5 L579.0,107.5 L582.0,107.7 L585.0,107.8 L588.0,107.8 L591.0,107.8 L594.0,107.5 L597.0,107.3 L600.0,107.4 L603.0,107.6 L606.0,107.4 L609.0,107.3 L612.0,107.6 L615.0,107.5 L618.0,107.0 L621.0,106.8 L624.0,106.8 L627.0,106.9 L630.0,107.0 L633.0,106.9 L636.0,106.8 L639.0,106.7 L642.0,106.8 L645.0,107.2 L648.0,107.1 L651.0,106.6 L654.0,106.6 L657.0,106.8 L660.0,106.8 L663.0,106.6 L666.0,106.5 L669.0,106.6 L672.0,106.8 L675.0,106.8 L678.0,106.7 L681.0,106.7 L684.0,106.5 L687.0,106.3 L690.0,106.6 L693.0,106.8 L696.0,106.7 L699.0,107.0 L702.0,106.9 L705.0,106.4 L708.0,106.4 L711.0,107.0 L714.0,107.0 L717.0,106.4 L720.0,106.1 L723.0,106.1 L726.0,106.1 L729.0,106.0 L732.0,106.1 L735.0,106.0 L738.0,106.1 L741.0,106.4 L744.0,106.4 L747.0,106.4 L750.0,106.6 L753.0,106.6 L756.0,106.4 L759.0,106.2 L762.0,106.4 L765.0,106.7 L768.0,106.6 L771.0,106.1 L774.0,106.3 L777.0,106.5 L780.0,106.7 L783.0,106.9 L786.0,106.7 L789.0,106.3 L792.0,106.0 L795.0,105.9 L798.0,106.1 L801.0,106.6 L804.0,106.9 L807.0,106.3 L810.0,105.6 L813.0,105.7 L816.0,105.9 L819.0,105.7 L822.0,105.7 L825.0,106.0 L828.0,106.1 L831.0,106.0 L834.0,105.9 L837.0,106.1 L840.0,106.0 L843.0,105.7 L846.0,105.5 L849.0,105.7 L852.0,105.9 L855.0,105.7 L858.0,105.9 L861.0,106.1 L864.0,106.0 L867.0,105.8 L870.0,105.9 L873.0,106.3 L876.0,106.4 L879.0,105.9 L882.0,105.4 L885.0,105.6 L888.0,106.2 L891.0,106.5 L894.0,106.3 L897.0,106.2 L900.0,105.9 L903.0,105.8 L906.0,105.9 L909.0,105.8 L912.0,105.6 L915.0,106.0 L918.0,106.1 L921.0,105.5 L924.0,105.4 L927.0,105.7 L930.0,105.4 L933.0,105.3 L936.0,105.7 L939.0,105.9 L942.0,105.9 L945.0,106.3 L948.0,106.0 L951.0,105.6 L954.0,105.6 L957.0,105.4 L960.0,105.5 L963.0,105.7 L966.0,105.6 L969.0,105.8 L972.0,106.2 L975.0,106.2 L978.0,106.1 L981.0,106.0 L984.0,106.1 L987.0,106.1 L990.0,106.1 L993.0,106.0 L996.0,105.7 L999.0,105.4 L1002.0,105.3 L1005.0,105.5 L1008.0,106.0 L1011.0,106.0 L1014.0,105.7 L1017.0,105.6 L1020.0,105.5 L1023.0,105.3 L1026.0,105.3 L1029.0,105.4 L1032.0,105.3 L1035.0,105.5 L1038.0,105.6 L1041.0,105.4 L1044.0,105.2 L1047.0,105.5 L1050.0,105.8 L1053.0,105.8 L1056.0,106.0 L1059.0,106.0 L1062.0,105.5 L1065.0,105.5 L1068.0,106.0 L1071.0,106.1 L1074.0,105.6 L1077.0,105.6 L1080.0,106.0 L1083.0,106.2 L1086.0,106.2 L1089.0,105.9 L1092.0,105.6 L1095.0,105.7 L1098.0,106.0 L1101.0,105.5 L1104.0,105.1 L1107.0,105.4 L1110.0,105.9 L1113.0,106.1 L1116.0,105.9 L1119.0,105.7 L1122.0,106.0 L1125.0,106.2 L1128.0,106.0 L1131.0,106.0 L1134.0,105.9 L1137.0,105.7 L1140.0,105.7 L1143.0,105.6 L1146.0,105.6 L1149.0,105.7 L1152.0,105.6 L1155.0,105.9 L1158.0,106.0 L1161.0,105.7 L1164.0,105.4 L1167.0,105.6 L1170.0,105.8 L1173.0,105.9 L1176.0,105.9 L1179.0,105.8 L1182.0,105.6 L1185.0,105.4 L1188.0,105.3 L1191.0,105.6 L1194.0,105.7 L1197.0,105.6 L1200.0,105.9 L1203.0,105.5 L1206.0,104.9 L1209.0,105.0 L1212.0,105.3 L1215.0,105.9 L1218.0,106.2 L1221.0,105.7 L1224.0,105.4 L1227.0,105.5 L1230.0,105.6 L1233.0,105.8 L1236.0,105.7 L1239.0,105.5 L1242.0,105.6 L1245.0,105.4 L1248.0,105.5 L1251.0,105.8 L1254.0,105.6 L1257.0,105.1 L1260.0,105.0 L1263.0,105.1 L1266.0,105.4 L1269.0,105.4 L1272.0,105.1 L1275.0,105.3 L1278.0,105.5 L1281.0,105.5 L1284.0,105.6 L1287.0,105.7 L1290.0,105.6 L1293.0,105.5 L1296.0,105.6 L1299.0,105.4 L1302.0,105.0 L1305.0,105.2 L1308.0,105.1 L1311.0,104.8 L1314.0,104.5 L1317.0,104.4 L1320.0,104.6 L1323.0,104.9 L1326.0,104.9 L1329.0,104.9 L1332.0,105.2 L1335.0,105.2 L1338.0,104.8 L1341.0,104.6 L1344.0,104.5 L1347.0,104.4 L1350.0,104.6 L1353.0,104.8 L1356.0,104.6 L1359.0,104.4 L1362.0,104.5 L1365.0,104.6 L1368.0,105.0 L1371.0,105.4 L1374.0,105.1 L1377.0,104.5 L1380.0,104.1 L1383.0,103.9 L1386.0,104.2 L1389.0,104.6 L1392.0,104.6 L1395.0,104.5 L1398.0,104.5 L1401.0,104.8 L1404.0,104.9 L1407.0,104.6 L1410.0,104.3 L1413.0,104.5 L1416.0,104.6 L1419.0,104.3 L1422.0,104.0 L1425.0,103.9 L1428.0,104.1 L1431.0,104.8 L1434.0,105.2 L1437.0,104.7 L1440.0,104.7 L1443.0,104.6 L1446.0,104.2 L1449.0,104.2 L1452.0,104.3 L1455.0,104.5 L1458.0,104.6 L1461.0,104.2 L1464.0,104.3 L1467.0,104.5 L1470.0,104.3 L1473.0,104.5 L1476.0,104.7 L1479.0,104.6 L1482.0,104.6 L1485.0,104.3 L1488.0,104.1 L1491.0,104.8 L1494.0,105.3 L1497.0,105.0 L1500.0,104.5 L1503.0,104.0 L1506.0,103.9 L1509.0,103.9 L1512.0,104.1 L1515.0,104.3 L1518.0,104.1 L1521.0,103.8 L1524.0,103.6 L1527.0,103.9 L1530.0,104.1 L1533.0,103.9 L1536.0,104.1 L1539.0,104.4 L1542.0,103.9 L1545.0,103.5 L1548.0,103.9 L1551.0,104.6 L1554.0,104.9 L1557.0,104.3 L1560.0,103.8 L1563.0,103.9 L1566.0,104.1 L1569.0,104.1 L1572.0,104.5 L1575.0,104.6 L1578.0,104.3 L1581.0,104.2 L1584.0,104.5 L1587.0,104.3 L1590.0,104.0 L1593.0,104.0 L1596.0,103.8 L1599.0,103.6 L1602.0,103.8 L1605.0,103.7 L1608.0,103.3 L1611.0,103.1 L1614.0,103.5 L1617.0,104.4 L1620.0,104.7 L1623.0,104.5 L1626.0,104.2 L1629.0,103.8 L1632.0,103.7 L1635.0,103.7 L1638.0,103.3 L1641.0,103.3 L1644.0,103.6 L1647.0,103.5 L1650.0,103.4 L1653.0,103.6 L1656.0,103.8 L1659.0,104.0 L1662.0,103.8 L1665.0,103.6 L1668.0,103.6 L1671.0,103.5 L1674.0,103.4 L1677.0,103.5 L1680.0,103.9 L1683.0,104.2 L1686.0,103.9 L1689.0,103.2 L1692.0,103.2 L1695.0,103.5 L1698.0,103.5 L1701.0,103.4 L1704.0,103.5 L1707.0,103.8 L1710.0,103.6 L1713.0,103.5 L1716.0,104.0 L1719.0,104.0 L1722.0,103.7 L1725.0,103.7 L1728.0,103.7 L1731.0,103.8 L1734.0,103.6 L1737.0,103.2 L1740.0,103.2 L1743.0,103.3 L1746.0,103.6 L1749.0,103.7 L1752.0,103.5 L1755.0,102.8 L1758.0,102.3 L1761.0,102.7 L1764.0,103.0 L1767.0,103.6 L1770.0,104.1 L1773.0,103.8 L1776.0,103.5 L1779.0,103.5 L1782.0,103.4 L1785.0,103.3 L1788.0,103.2 L1791.0,103.4 L1794.0,103.8 L1797.0,104.0 L1800.0,103.9 L1803.0,103.7 L1806.0,103.6 L1809.0,103.6 L1812.0,103.9 L1815.0,104.0 L1818.0,103.7 L1821.0,103.3 L1824.0,103.5 L1827.0,104.0 L1830.0,103.7 L1833.0,103.7 L1836.0,104.3 L1839.0,104.3 L1842.0,103.9 L1845.0,104.0 L1848.0,104.4 L1851.0,104.3 L1854.0,103.8 L1857.0,103.4 L1860.0,102.8 L1863.0,102.9 L1866.0,103.6 L1869.0,103.8 L1872.0,103.4 L1875.0,102.9 L1878.0,102.8 L1881.0,102.9 L1884.0,103.2 L1887.0,103.9 L1890.0,104.7 L1893.0,105.1 L1896.0,104.4 L1899.0,103.4 L1902.0,102.5 L1905.0,102.0 L1908.0,102.7 L1911.0,103.6 L1914.0,104.1 L1917.0,104.1 L1920.0,104.0 L1923.0,103.9 L1926.0,104.2 L1929.0,104.1 L1932.0,103.4 L1935.0,102.9 L1938.0,103.3 L1941.0,104.2 L1944.0,104.6 L1947.0,103.9 L1950.0,103.3 L1953.0,103.4 L1956.0,103.6 L1959.0,103.5 L1962.0,103.6 L1965.0,103.7 L1968.0,103.7 L1971.0,103.9 L1974.0,103.8 L1977.0,103.5 L1980.0,103.4 L1983.0,103.6 L1986.0,103.8 L1989.0,103.7 L1992.0,103.6 L1995.0,103.2 L1998.0,103.1 L2001.0,103.4 L2004.0,103.5 L2007.0,103.8 L2010.0,103.6 L2013.0,102.8 L2016.0,102.7 L2019.0,103.0 L2022.0,102.9 L2025.0,103.1 L2028.0,103.6 L2031.0,103.7 L2034.0,103.6 L2037.0,103.6 L2040.0,103.5 L2043.0,103.3 L2046.0,103.5 L2049.0,103.9 L2052.0,103.6 L2055.0,103.1 L2058.0,103.0 L2061.0,103.5 L2064.0,103.7 L2067.0,103.4 L2070.0,103.3 L2073.0,104.3 L2076.0,104.8 L2079.0,104.1 L2082.0,103.7" stroke="#e23ae2" stroke-width="8"/>
</g></g>
<text class="ser" transform="translate(353.6,96.5) scale(1,1.03)" font-size="65.5" filter="url(#ft)">Blank</text>
<text class="ser" transform="translate(331.5,194.8) scale(1,1.0492223950233281)" font-size="64.3" filter="url(#ft)">5min</text>
<text class="ser" transform="translate(394.1,357.2) scale(1,1.03)" font-size="65.5" filter="url(#ft)">15min</text>
<text class="ser" transform="translate(436.6,545.2) scale(1,1.03)" font-size="65.5" filter="url(#ft)">25min</text>
<text class="ser" transform="translate(396.6,743.7) scale(1,1.03)" font-size="65.5" filter="url(#ft)">30min</text>
<g stroke="#000" stroke-width="9.0" fill="none" stroke-linecap="butt" filter="url(#fb)">
<rect x="270.3" y="40.8" width="1814.1" height="1344.7"/>
<line x1="238.3" y1="1385.5" x2="270.3" y2="1385.5"/>
<line x1="252.3" y1="1257.5" x2="270.3" y2="1257.5"/>
<line x1="238.3" y1="1129.4" x2="270.3" y2="1129.4"/>
<line x1="252.3" y1="1001.4" x2="270.3" y2="1001.4"/>
<line x1="238.3" y1="873.4" x2="270.3" y2="873.4"/>
<line x1="252.3" y1="745.4" x2="270.3" y2="745.4"/>
<line x1="238.3" y1="617.3" x2="270.3" y2="617.3"/>
<line x1="252.3" y1="489.3" x2="270.3" y2="489.3"/>
<line x1="238.3" y1="361.3" x2="270.3" y2="361.3"/>
<line x1="252.3" y1="233.2" x2="270.3" y2="233.2"/>
<line x1="238.3" y1="105.2" x2="270.3" y2="105.2"/>
<line x1="270.3" y1="1385.5" x2="270.3" y2="1403.5"/>
<line x1="471.9" y1="1385.5" x2="471.9" y2="1417.5"/>
<line x1="673.4" y1="1385.5" x2="673.4" y2="1403.5"/>
<line x1="875.0" y1="1385.5" x2="875.0" y2="1417.5"/>
<line x1="1076.6" y1="1385.5" x2="1076.6" y2="1403.5"/>
<line x1="1278.1" y1="1385.5" x2="1278.1" y2="1417.5"/>
<line x1="1479.7" y1="1385.5" x2="1479.7" y2="1403.5"/>
<line x1="1681.3" y1="1385.5" x2="1681.3" y2="1417.5"/>
<line x1="1882.8" y1="1385.5" x2="1882.8" y2="1403.5"/>
<line x1="2084.4" y1="1385.5" x2="2084.4" y2="1417.5"/>
</g>
<text class="san" transform="translate(223.3,1404.7) scale(1,1.035)" font-size="69.5" text-anchor="end" filter="url(#fs)">0</text>
<text class="san" transform="translate(223.3,1148.6) scale(1,1.035)" font-size="69.5" text-anchor="end" filter="url(#fs)">20</text>
<text class="san" transform="translate(223.3,892.6) scale(1,1.035)" font-size="69.5" text-anchor="end" filter="url(#fs)">40</text>
<text class="san" transform="translate(223.3,636.5) scale(1,1.035)" font-size="69.5" text-anchor="end" filter="url(#fs)">60</text>
<text class="san" transform="translate(223.3,380.5) scale(1,1.035)" font-size="69.5" text-anchor="end" filter="url(#fs)">80</text>
<text class="san" transform="translate(223.3,124.4) scale(1,1.035)" font-size="69.5" text-anchor="end" filter="url(#fs)">100</text>
<text class="san" transform="translate(471.9,1486.0) scale(1,1.035)" font-size="69.5" text-anchor="middle" filter="url(#fs)">400</text>
<text class="san" transform="translate(875.0,1486.0) scale(1,1.035)" font-size="69.5" text-anchor="middle" filter="url(#fs)">500</text>
<text class="san" transform="translate(1278.1,1486.0) scale(1,1.035)" font-size="69.5" text-anchor="middle" filter="url(#fs)">600</text>
<text class="san" transform="translate(1681.3,1486.0) scale(1,1.035)" font-size="69.5" text-anchor="middle" filter="url(#fs)">700</text>
<text class="san" transform="translate(2084.4,1486.0) scale(1,1.035)" font-size="69.5" text-anchor="middle" filter="url(#fs)">800</text>
<text class="ser" transform="translate(1204.5,1581.6)" font-size="77" text-anchor="middle" filter="url(#ft)">Wavelength(nm)</text>
<text class="ser" transform="translate(79.7,794.7) rotate(-90)" font-size="78.5" text-anchor="middle" filter="url(#ft)">Transmittance(%)</text>
<g filter="url(#fb)">
<rect x="1283.5" y="715.5" width="710.5" height="447.0" fill="#fff" stroke="#a9a9a9" stroke-width="4.5"/>
<line x1="1294" y1="768" x2="1448.3" y2="768" stroke="#000000" stroke-width="6.6"/>
<line x1="1294" y1="857.4" x2="1448.3" y2="857.4" stroke="#d91515" stroke-width="6.6"/>
<line x1="1294" y1="946.7" x2="1448.3" y2="946.7" stroke="#1535d8" stroke-width="6.6"/>
<line x1="1294" y1="1036.1" x2="1448.3" y2="1036.1" stroke="#158b8b" stroke-width="6.6"/>
<line x1="1294" y1="1125" x2="1448.3" y2="1125" stroke="#e23ae2" stroke-width="6.6"/>
</g>
<text class="ser" transform="translate(0,790.5) scale(1,1.03)" font-size="71" filter="url(#ft)"><tspan x="1462.8">94.3%,</tspan> <tspan x="1692">3500</tspan><tspan x="1833.0" class="reg" stroke="#000" stroke-width="0.7">Ω</tspan> <tspan x="1904.3" font-size="68">/sq</tspan></text>
<text class="ser" transform="translate(0,879.9) scale(1,1.03)" font-size="71" filter="url(#ft)"><tspan x="1462.8">83.7%,</tspan> <tspan x="1692">661</tspan><tspan x="1797.5" class="reg" stroke="#000" stroke-width="0.7">Ω</tspan> <tspan x="1868.8" font-size="68">/sq</tspan></text>
<text class="ser" transform="translate(0,969.7) scale(1,1.03)" font-size="71" filter="url(#ft)"><tspan x="1462.8">72.5%,</tspan> <tspan x="1692">456</tspan><tspan x="1797.5" class="reg" stroke="#000" stroke-width="0.7">Ω</tspan> <tspan x="1868.8" font-size="68">/sq</tspan></text>
<text class="ser" transform="translate(0,1059.2) scale(1,1.03)" font-size="71" filter="url(#ft)"><tspan x="1462.8">68.3%,</tspan> <tspan x="1692">324</tspan><tspan x="1797.5" class="reg" stroke="#000" stroke-width="0.7">Ω</tspan> <tspan x="1868.8" font-size="68">/sq</tspan></text>
<text class="ser" transform="translate(0,1148.4) scale(1,1.03)" font-size="71" filter="url(#ft)"><tspan x="1462.8">99.99%</tspan></text>
</svg></body></html>
